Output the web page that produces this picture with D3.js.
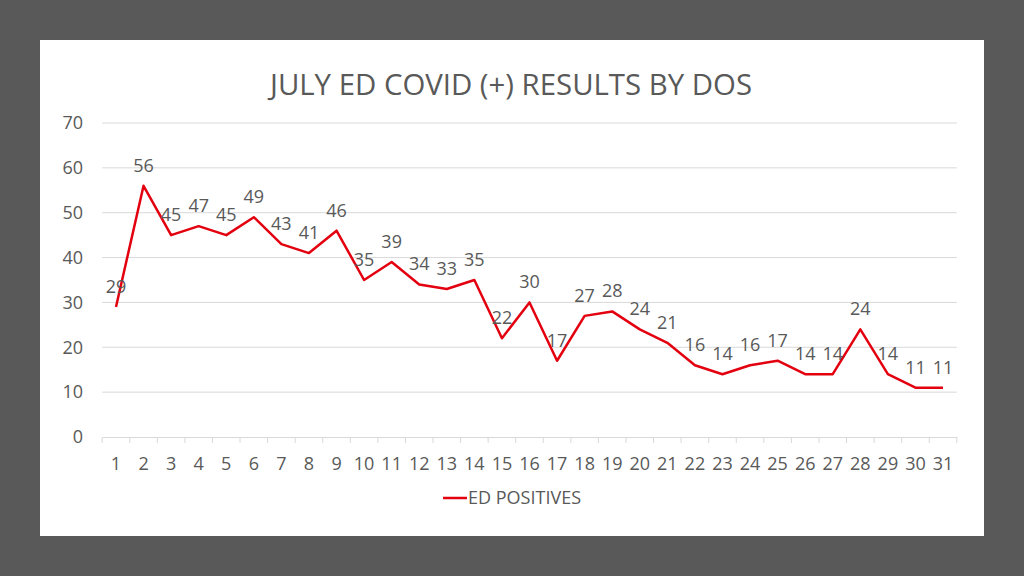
<!DOCTYPE html>
<html><head><meta charset="utf-8">
<script src="https://cdn.jsdelivr.net/npm/d3@7"></script>
<style>body{margin:0;background:#595959;} svg{display:block;}</style>
</head><body>
<svg id="c" width="1024" height="576"></svg>
<script>
const days = d3.range(1, 32).map(String);
const positives = [29,56,45,47,45,49,43,41,46,35,39,34,33,35,22,30,17,27,28,24,21,16,14,16,17,14,14,24,14,11,11];
const yTicks = [0,10,20,30,40,50,60,70];
const title = "JULY ED COVID (+) RESULTS BY DOS";
const seriesName = "ED POSITIVES";

const svg = d3.select("#c");
const font = "'Open Sans', sans-serif";
const txt = "#595959";
svg.append("rect").attr("width",1024).attr("height",576).attr("fill","#595959");
svg.append("rect").attr("x",40).attr("y",40).attr("width",944).attr("height",496).attr("fill","#fff");

const x = d3.scaleBand().domain(days).range([102.2, 956.8]);
const y = d3.scaleLinear().domain([0,70]).range([437,123]);

svg.append("text").attr("x",511).attr("y",95).attr("text-anchor","middle")
  .attr("font-family",font).attr("font-size",29).attr("fill",txt)
  .attr("textLength",482).attr("lengthAdjust","spacingAndGlyphs").text(title);

// gridlines
svg.append("g").selectAll("line").data(yTicks.filter(d=>d>0)).join("line")
  .attr("x1",102.2).attr("x2",956.8).attr("y1",d=>y(d)).attr("y2",d=>y(d))
  .attr("stroke","#d9d9d9").attr("stroke-width",1);

// y labels
svg.append("g").selectAll("text").data(yTicks).join("text")
  .attr("x",83).attr("y",d=>y(d)).attr("dy","0.35em").attr("text-anchor","end")
  .attr("font-family",font).attr("font-size",18).attr("fill",txt).text(d=>d);

// x axis
const xa = svg.append("g").attr("transform","translate(0,437)")
  .call(d3.axisBottom(x).tickSize(0).tickPadding(20));
xa.select(".domain").attr("stroke","#d9d9d9");
xa.selectAll("text").attr("font-family",font).attr("font-size",18).attr("fill",txt);
svg.append("g").selectAll("line").data(days.concat(["end"])).join("line")
  .attr("x1",(d,i)=> i<days.length ? x(d) : x.range()[1]).attr("x2",(d,i)=> i<days.length ? x(d) : x.range()[1])
  .attr("y1",437).attr("y2",443).attr("stroke","#d9d9d9");

const line = d3.line().x((d,i)=>x(days[i])+x.bandwidth()/2).y(d=>y(d));
svg.append("path").datum(positives).attr("d",line).attr("fill","none")
  .attr("stroke","#e3000f").attr("stroke-width",2.5).attr("stroke-linejoin","round");

svg.append("g").selectAll("text").data(positives).join("text")
  .attr("x",(d,i)=>x(days[i])+x.bandwidth()/2).attr("y",d=>y(d)-14)
  .attr("text-anchor","middle").attr("font-family",font).attr("font-size",18).attr("fill",txt).text(d=>d);

// legend
svg.append("line").attr("x1",443).attr("x2",467).attr("y1",498).attr("y2",498)
  .attr("stroke","#e3000f").attr("stroke-width",2.5);
svg.append("text").attr("x",468).attr("y",498).attr("dy","0.35em")
  .attr("font-family",font).attr("font-size",18).attr("fill",txt).text(seriesName);
</script>
</body></html>
